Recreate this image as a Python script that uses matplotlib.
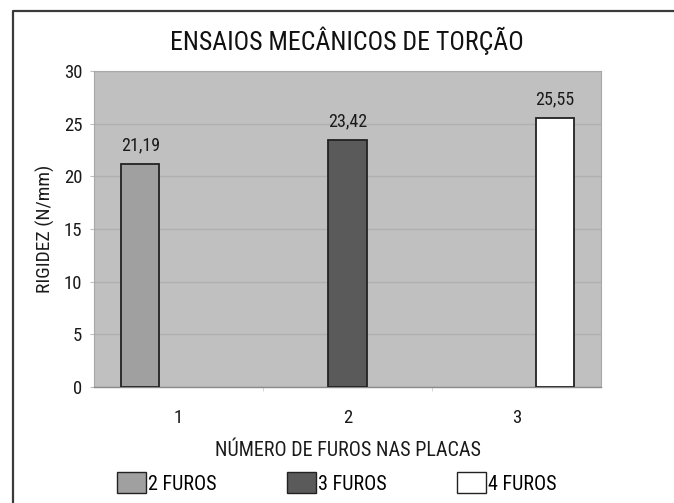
import numpy as np
import matplotlib
matplotlib.use('Agg')
import matplotlib.pyplot as plt
from matplotlib.lines import Line2D
from matplotlib.patches import Patch

plt.rcParams['font.family'] = ['Roboto Condensed', 'Liberation Sans', 'DejaVu Sans']

# dados do gráfico
categorias = [1, 2, 3]
series = ['2 FUROS', '3 FUROS', '4 FUROS']
furos_2 = [21.19, np.nan, np.nan]
furos_3 = [np.nan, 23.42, np.nan]
furos_4 = [np.nan, np.nan, 25.55]
cores = ['#a0a0a0', '#5a5a5a', '#ffffff']
y_ticks = [0, 5, 10, 15, 20, 25, 30]

W, H = 674, 503
fig = plt.figure(figsize=(W / 100, H / 100), dpi=100)
ax = fig.add_axes([94 / W, 1 - 387 / H, (601 - 94) / W, (387 - 71) / H])
ax.set_facecolor('#c0c0c0')

largura = 0.226
x = np.array(categorias, dtype=float)
for i, (nome, vals, cor) in enumerate(zip(series, [furos_2, furos_3, furos_4], cores)):
    vals = np.array(vals)
    ok = ~np.isnan(vals)
    barras = ax.bar(x[ok] + (i - 1) * largura, vals[ok], largura, color=cor,
                    edgecolor='#222222', linewidth=1.3, zorder=3)
    ax.bar_label(barras, labels=[f'{v:.2f}'.replace('.', ',') for v in vals[ok]],
                 padding=7, fontsize=13, color='#1a1a1a')

ax.set_xlim(0.5, 3.5)
ax.set_ylim(0, 30)
ax.set_yticks(y_ticks)
ax.set_xticks(categorias)
ax.set_xticks([1.5, 2.5], minor=True)
ax.yaxis.grid(True, color='#b0b0b0', linewidth=1.0, zorder=0)
ax.set_axisbelow(True)

ax.tick_params(axis='y', length=3, color='#bdbdbd', labelsize=13.5, pad=5.5, labelcolor='#1a1a1a')
ax.tick_params(axis='x', which='major', length=0, labelsize=13.5, pad=16, labelcolor='#1a1a1a')
ax.tick_params(axis='x', which='minor', length=3, color='#d0d0d0')

for lado in ['top', 'right', 'left']:
    ax.spines[lado].set_color('#a8a8a8')
    ax.spines[lado].set_linewidth(0.8)
ax.spines['bottom'].set_color('#8a8a8a')
ax.spines['bottom'].set_linewidth(1.0)

ax.set_ylabel('RIGIDEZ (N/mm)', fontsize=14, color='#1a1a1a', va='center')
ax.yaxis.set_label_coords((45 - 94) / 507, 0.5)
ax.set_xlabel('NÚMERO DE FUROS NAS PLACAS', fontsize=14.5, color='#1a1a1a', va='center')
ax.xaxis.set_label_coords(0.5, (387 - 450) / 316)

fig.text(347 / W, 1 - 41 / H, 'ENSAIOS MECÂNICOS DE TORÇÃO', ha='center', va='center',
         fontsize=18.5, color='#111111')

# legenda
handles = [Patch(facecolor=c, edgecolor='#222222', linewidth=1.0) for c in cores]
fig.legend(handles, series, loc='center left', bbox_to_anchor=(117 / W, 1 - 483 / H),
           ncol=3, frameon=False, fontsize=14.5, handlelength=1.44, handleheight=1.19,
           handletextpad=0.1, columnspacing=3.5, borderaxespad=0, borderpad=0)

# moldura externa
fig.add_artist(Line2D([13 / W, 13 / W, 1], [0, 1 - 11 / H, 1 - 11 / H],
                      transform=fig.transFigure, color='#3a3a3a', linewidth=1.6))

fig.savefig('out.png', dpi=100)
